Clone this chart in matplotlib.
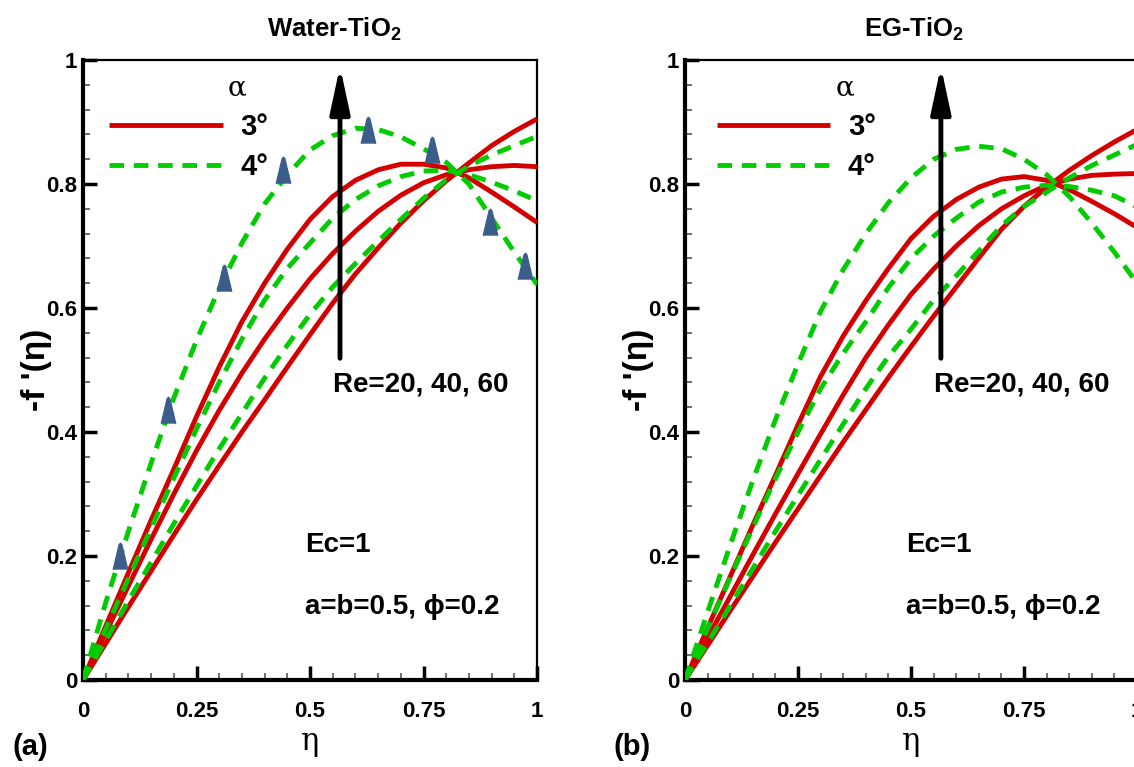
import matplotlib
matplotlib.use("Agg")
import matplotlib.pyplot as plt
from matplotlib.ticker import MultipleLocator, FixedLocator

plt.rcParams['font.family'] = ['Liberation Sans', 'DejaVu Sans']
plt.rcParams['font.weight'] = 'bold'
plt.rcParams['axes.labelweight'] = 'bold'
plt.rcParams['mathtext.fontset'] = 'custom'
plt.rcParams['mathtext.rm'] = 'Liberation Sans'
plt.rcParams['mathtext.bf'] = 'Liberation Sans:bold'

# eta grid
eta = [0, 0.05, 0.1, 0.15, 0.2, 0.25, 0.3, 0.35, 0.4, 0.45, 0.5,
       0.55, 0.6, 0.65, 0.7, 0.75, 0.8, 0.85, 0.9, 0.95, 1.0]

# (a) Water-TiO2, alpha = 3 deg (solid red), Re = 20, 40, 60
water_a3_re20 = [0, 0.059, 0.118, 0.176, 0.234, 0.291, 0.346, 0.4, 0.452, 0.505, 0.557,
                 0.608, 0.655, 0.697, 0.737, 0.773, 0.805, 0.834, 0.862, 0.885, 0.905]
water_a3_re40 = [0, 0.076, 0.152, 0.227, 0.3, 0.37, 0.435, 0.495, 0.55, 0.6, 0.647,
                 0.688, 0.724, 0.756, 0.782, 0.802, 0.815, 0.823, 0.828, 0.83, 0.828]
water_a3_re60 = [0, 0.087, 0.173, 0.258, 0.34, 0.425, 0.505, 0.578, 0.64, 0.695, 0.743,
                 0.78, 0.806, 0.823, 0.832, 0.832, 0.826, 0.81, 0.787, 0.763, 0.738]
# alpha = 4 deg (dashed green)
water_a4_re20 = [0, 0.064, 0.128, 0.19, 0.252, 0.313, 0.373, 0.43, 0.487, 0.54, 0.59,
                 0.634, 0.672, 0.708, 0.743, 0.777, 0.807, 0.829, 0.847, 0.862, 0.877]
water_a4_re40 = [0, 0.082, 0.164, 0.245, 0.326, 0.405, 0.48, 0.55, 0.613, 0.664, 0.705,
                 0.745, 0.775, 0.797, 0.812, 0.821, 0.822, 0.815, 0.803, 0.789, 0.773]
water_a4_re60 = [0, 0.125, 0.24, 0.35, 0.455, 0.548, 0.632, 0.705, 0.768, 0.815, 0.855,
                 0.878, 0.89, 0.888, 0.876, 0.857, 0.835, 0.8, 0.745, 0.69, 0.638]

# comparison points (triangles) in panel (a)
cmp_eta = [0.081, 0.187, 0.311, 0.441, 0.628, 0.769, 0.896, 0.974]
cmp_f = [0.2, 0.435, 0.648, 0.823, 0.887, 0.855, 0.739, 0.668]

# (b) EG-TiO2
eg_a3_re20 = [0, 0.056, 0.112, 0.167, 0.222, 0.276, 0.33, 0.384, 0.436, 0.488, 0.538,
              0.587, 0.634, 0.681, 0.727, 0.764, 0.795, 0.822, 0.846, 0.868, 0.888]
eg_a3_re40 = [0, 0.068, 0.135, 0.202, 0.268, 0.333, 0.397, 0.46, 0.52, 0.573, 0.622,
              0.663, 0.7, 0.733, 0.76, 0.781, 0.798, 0.808, 0.814, 0.816, 0.817]
eg_a3_re60 = [0, 0.084, 0.167, 0.25, 0.33, 0.412, 0.49, 0.555, 0.612, 0.664, 0.712,
              0.748, 0.775, 0.795, 0.808, 0.812, 0.806, 0.791, 0.772, 0.752, 0.73]
eg_a4_re20 = [0, 0.06, 0.12, 0.18, 0.24, 0.298, 0.356, 0.413, 0.47, 0.522, 0.566,
              0.613, 0.652, 0.692, 0.733, 0.764, 0.787, 0.81, 0.83, 0.847, 0.864]
eg_a4_re40 = [0, 0.083, 0.165, 0.246, 0.325, 0.4, 0.47, 0.527, 0.578, 0.633, 0.68,
              0.716, 0.745, 0.771, 0.787, 0.795, 0.798, 0.796, 0.79, 0.781, 0.763]
eg_a4_re60 = [0, 0.11, 0.218, 0.322, 0.42, 0.51, 0.595, 0.662, 0.72, 0.77, 0.81,
              0.84, 0.856, 0.861, 0.857, 0.84, 0.815, 0.78, 0.737, 0.69, 0.64]

x_ticks = [0, 0.25, 0.5, 0.75, 1]
x_ticklabels = ['0', '0.25', '0.5', '0.75', '1']
y_ticks = [0, 0.2, 0.4, 0.6, 0.8, 1]
y_ticklabels = ['0', '0.2', '0.4', '0.6', '0.8', '1']

RED = '#d40000'
GREEN = '#00cc00'
TRI = '#3b5d8a'
tri_marker = [(-0.55, -1), (-0.1, 0.9), (0, 1), (0.1, 0.9), (0.55, -1)]

fig = plt.figure(figsize=(11.34, 7.67), dpi=100)
ax1 = fig.add_axes([0.0732, 0.1134, 0.4004, 0.8083])
ax2 = fig.add_axes([0.6041, 0.1134, 0.3986, 0.8083])


def draw_panel(ax, red_sets, green_sets, title, title_x, leg_x, alpha_x):
    for i, ys in enumerate(red_sets):
        ax.plot(eta, ys, color=RED, lw=3.5, solid_capstyle='butt',
                label='3°' if i == 0 else None, zorder=3)
    for i, ys in enumerate(green_sets):
        ax.plot(eta, ys, color=GREEN, lw=3.5, dashes=(3, 2),
                label='4°' if i == 0 else None, zorder=4)

    ax.set_xlim(0, 1)
    ax.set_ylim(0, 1)
    ax.xaxis.set_major_locator(FixedLocator(x_ticks))
    ax.set_xticklabels(x_ticklabels)
    ax.yaxis.set_major_locator(FixedLocator(y_ticks))
    ax.set_yticklabels(y_ticklabels)
    ax.xaxis.set_minor_locator(MultipleLocator(0.05))
    ax.yaxis.set_minor_locator(MultipleLocator(0.04))
    ax.tick_params(which='major', direction='in', length=10, width=2.5,
                   labelsize=16, top=False, right=False)
    ax.tick_params(which='minor', direction='in', length=5, width=1.2,
                   color='#555555', top=False, right=False)
    ax.tick_params(axis='x', which='major', pad=15)
    ax.tick_params(axis='y', which='major', pad=4)
    for s in ['left', 'bottom']:
        ax.spines[s].set_linewidth(3)
    for s in ['top', 'right']:
        ax.spines[s].set_linewidth(1.6)

    ax.set_xlabel('η', family='DejaVu Serif', fontweight='normal',
                  fontsize=22, labelpad=3)
    ax.set_ylabel("-f '(η)", fontsize=24)
    ax.yaxis.set_label_coords(-0.068, 0.5)

    ax.text(title_x, 1.05, title, transform=ax.transAxes, ha='center',
            va='center', fontsize=18.5)

    ax.annotate('', xy=(0.566, 0.99), xytext=(0.566, 0.519),
                arrowprops=dict(arrowstyle='-|>,head_length=1.4,head_width=0.3',
                                mutation_scale=20, lw=3.5, color='black',
                                shrinkA=0, shrinkB=0), zorder=6)
    ax.text(0.551, 0.476, 'Re=20, 40, 60', fontsize=20, ha='left', va='center')
    ax.text(0.489, 0.218, 'Ec=1', fontsize=20, ha='left', va='center')
    ax.text(0.489, 0.118, 'a=b=0.5, ϕ=0.2', fontsize=20, ha='left', va='center')

    ax.legend(loc='upper left', bbox_to_anchor=(leg_x, 0.915),
              frameon=False, fontsize=21, handlelength=3.9,
              handletextpad=0.6, labelspacing=0.42, borderpad=0,
              borderaxespad=0)
    ax.text(alpha_x, 0.955, 'α', transform=ax.transAxes, family='DejaVu Serif',
            fontweight='normal', fontsize=20, ha='center', va='center')


draw_panel(ax1, [water_a3_re20, water_a3_re40, water_a3_re60],
           [water_a4_re20, water_a4_re40, water_a4_re60],
           'Water-TiO$_\\mathbf{2}$', 0.553, 0.057, 0.34)
ax1.plot(cmp_eta, cmp_f, linestyle='none', marker=tri_marker, markersize=19,
         color=TRI, markeredgecolor=TRI, zorder=5)

draw_panel(ax2, [eg_a3_re20, eg_a3_re40, eg_a3_re60],
           [eg_a4_re20, eg_a4_re40, eg_a4_re60],
           'EG-TiO$_\\mathbf{2}$', 0.507, 0.07, 0.354)

fig.text(0.011, 0.026, '(a)', fontsize=21, ha='left', va='center')
fig.text(0.541, 0.026, '(b)', fontsize=21, ha='left', va='center')

fig.savefig('out.png', dpi=100)
